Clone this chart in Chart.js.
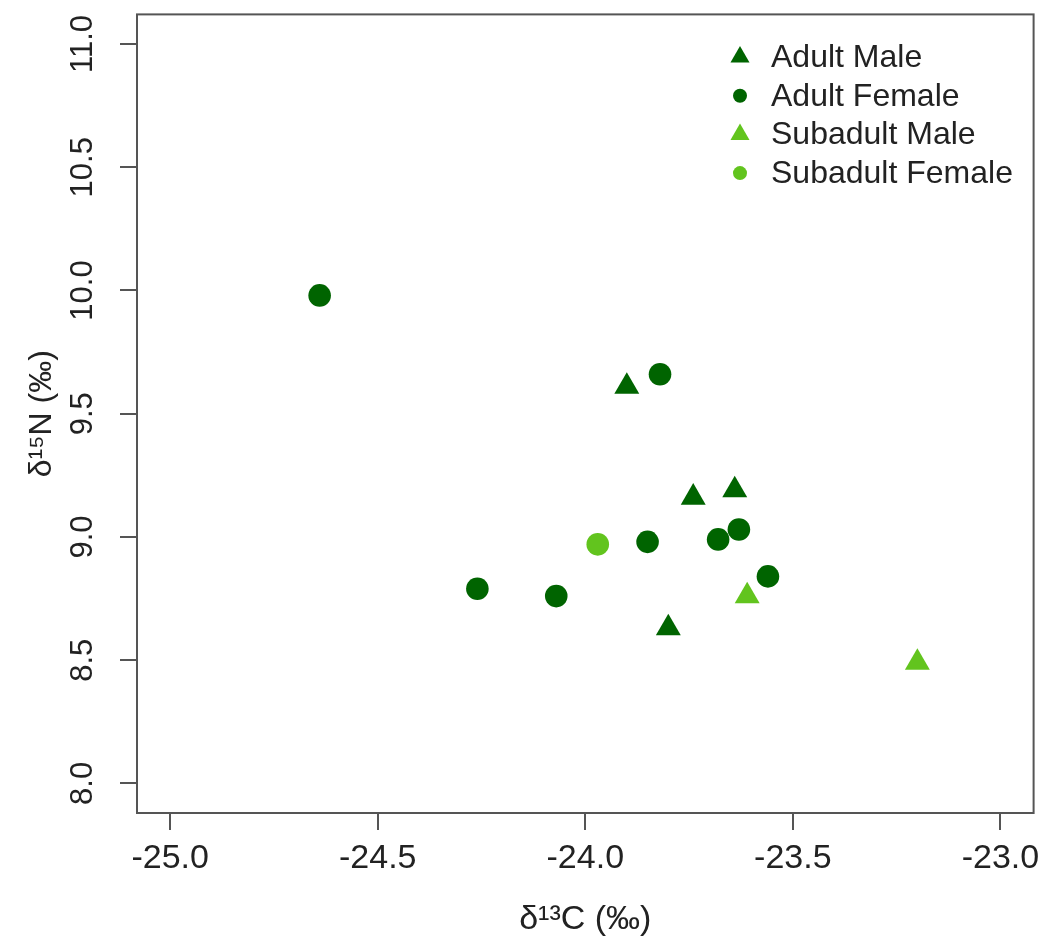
<!DOCTYPE html>
<html>
<head>
<meta charset="utf-8">
<script src="https://cdn.jsdelivr.net/npm/chart.js@4/dist/chart.umd.min.js"></script>
<style>
  html, body { margin: 0; padding: 0; background: #ffffff; }
  #wrap { width: 1048px; height: 947px; position: relative; }
</style>
</head>
<body>
<div id="wrap"><canvas id="c" width="1048" height="947"></canvas></div>
<script>
// ---- data ----
const seriesNames = ["Adult Male", "Adult Female", "Subadult Male", "Subadult Female"];
const adultMaleX = [-23.90, -23.74, -23.64, -23.80];
const adultMaleY = [9.61, 9.16, 9.19, 8.63];
const adultFemaleX = [-24.64, -23.82, -24.26, -24.07, -23.85, -23.68, -23.63, -23.56];
const adultFemaleY = [9.98, 9.66, 8.79, 8.76, 8.98, 8.99, 9.03, 8.84];
const subadultMaleX = [-23.61, -23.20];
const subadultMaleY = [8.76, 8.49];
const subadultFemaleX = [-23.97];
const subadultFemaleY = [8.97];
const xTicks = [-25.0, -24.5, -24.0, -23.5, -23.0];
const yTicks = [8.0, 8.5, 9.0, 9.5, 10.0, 10.5, 11.0];
const xTitle = "δ¹³C (‰)";
const yTitle = "δ¹⁵N (‰)";

// ---- styles ----
const darkGreen = "#006400";
const lightGreen = "#62c41e";
const textColor = "#222222";
const axisColor = "#555555";
const fontFamily = "'Liberation Sans', Arial, Helvetica, sans-serif";

function pts(xs, ys) { return xs.map((x, i) => ({ x: x, y: ys[i] })); }

const datasets = [
  { label: seriesNames[0], data: pts(adultMaleX, adultMaleY), pointStyle: "triangle", pointRadius: 14.4, color: darkGreen, legendR: 11 },
  { label: seriesNames[1], data: pts(adultFemaleX, adultFemaleY), pointStyle: "circle", pointRadius: 11.3, color: darkGreen, legendR: 7 },
  { label: seriesNames[2], data: pts(subadultMaleX, subadultMaleY), pointStyle: "triangle", pointRadius: 14.4, color: lightGreen, legendR: 11 },
  { label: seriesNames[3], data: pts(subadultFemaleX, subadultFemaleY), pointStyle: "circle", pointRadius: 11.3, color: lightGreen, legendR: 7 }
].map(d => ({
  label: d.label,
  data: d.data,
  pointStyle: d.pointStyle,
  pointRadius: d.pointRadius,
  pointHoverRadius: d.pointRadius,
  backgroundColor: d.color,
  borderColor: d.color,
  borderWidth: 0,
  showLine: false,
  legendR: d.legendR
}));

const boxPlugin = {
  id: "boxPlugin",
  afterDatasetsDraw(chart) {
    const { ctx, chartArea: a } = chart;
    ctx.save();
    ctx.strokeStyle = axisColor;
    ctx.lineWidth = 2;
    ctx.strokeRect(a.left, a.top, a.right - a.left, a.bottom - a.top);
    ctx.restore();
  }
};

const legendPlugin = {
  id: "insetLegend",
  afterDraw(chart) {
    const { ctx } = chart;
    const symX = 740, textX = 771, y0 = 57, step = 38.7;
    ctx.save();
    chart.data.datasets.forEach((ds, i) => {
      const y = y0 + i * step;
      ctx.fillStyle = ds.backgroundColor;
      const r = ds.legendR;
      ctx.beginPath();
      if (ds.pointStyle === "triangle") {
        ctx.moveTo(symX, y - r);
        ctx.lineTo(symX + r * Math.sin(2 * Math.PI / 3), y + r / 2);
        ctx.lineTo(symX - r * Math.sin(2 * Math.PI / 3), y + r / 2);
        ctx.closePath();
      } else {
        ctx.arc(symX, y, r, 0, Math.PI * 2);
      }
      ctx.fill();
      ctx.fillStyle = textColor;
      ctx.font = "32px " + fontFamily;
      ctx.textAlign = "left";
      ctx.textBaseline = "middle";
      ctx.fillText(ds.label, textX, y + 1);
    });
    ctx.restore();
  }
};

new Chart(document.getElementById("c"), {
  type: "scatter",
  data: { datasets: datasets },
  options: {
    responsive: false,
    animation: false,
    devicePixelRatio: 1,
    layout: { padding: { top: 14, right: 11, left: 0, bottom: 0 } },
    plugins: {
      legend: { display: false },
      tooltip: { enabled: false }
    },
    scales: {
      x: {
        type: "linear",
        position: "bottom",
        min: -25.08,
        max: -22.92,
        afterBuildTicks: s => { s.ticks = xTicks.map(v => ({ value: v })); },
        afterFit: s => { s.height = 134; s.paddingLeft = 0; s.paddingRight = 0; },
        border: { display: false },
        grid: { drawOnChartArea: false, drawTicks: true, tickLength: 17, tickColor: axisColor, lineWidth: 2 },
        ticks: {
          autoSkip: false,
          maxRotation: 0,
          minRotation: 0,
          padding: 8,
          color: textColor,
          font: { family: fontFamily, size: 34 },
          callback: v => Number(v).toFixed(1)
        },
        title: {
          display: true,
          text: xTitle,
          color: textColor,
          font: { family: fontFamily, size: 34 },
          padding: { top: 0, bottom: 7 }
        }
      },
      y: {
        type: "linear",
        position: "left",
        min: 7.88,
        max: 11.12,
        afterBuildTicks: s => { s.ticks = yTicks.map(v => ({ value: v })); },
        afterFit: s => { s.width = 137; s.paddingTop = 0; s.paddingBottom = 0; },
        border: { display: false },
        grid: { drawOnChartArea: false, drawTicks: true, tickLength: 17, tickColor: axisColor, lineWidth: 2 },
        ticks: {
          autoSkip: false,
          minRotation: 90,
          maxRotation: 90,
          crossAlign: "center",
          padding: 6,
          color: textColor,
          font: { family: fontFamily, size: 31 },
          callback: v => Number(v).toFixed(1)
        },
        title: {
          display: true,
          text: yTitle,
          color: textColor,
          font: { family: fontFamily, size: 32 },
          padding: { top: 23, bottom: 0 }
        }
      }
    }
  },
  plugins: [boxPlugin, legendPlugin]
});
</script>
</body>
</html>
